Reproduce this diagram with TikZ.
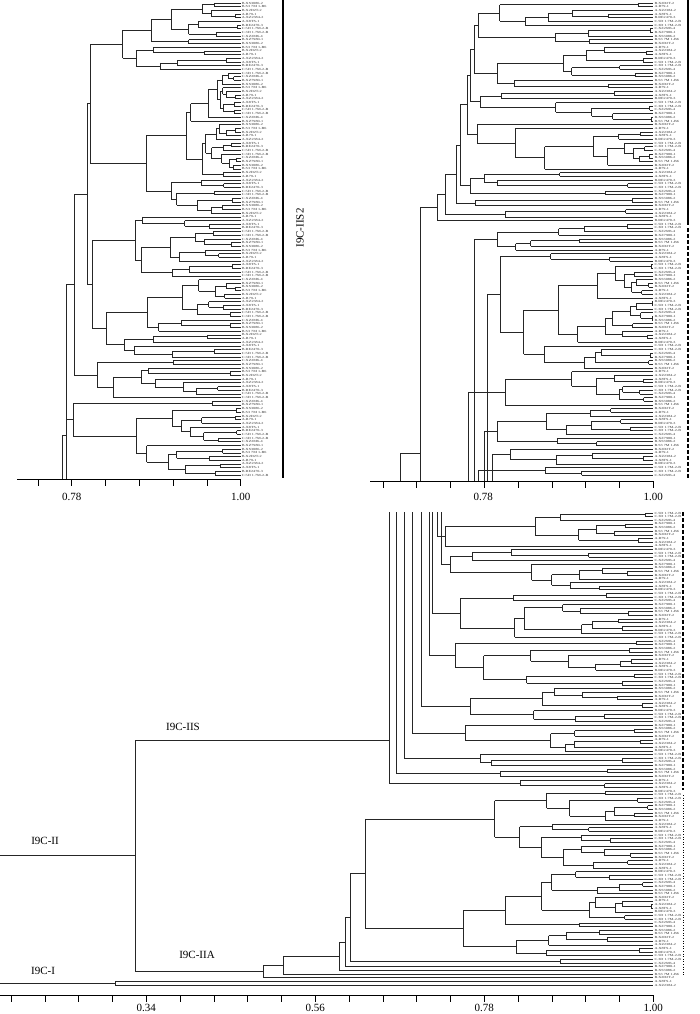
\documentclass[tikz,border=0pt]{standalone}
\usepackage{graphicx}
\usepackage{fontspec}
\setmainfont{Liberation Serif}
\tikzset{
  br/.style={line width=0.75pt, black!85},
  ax/.style={line width=0.8pt, black},
  lab/.style={font=\fontsize{3.1}{3.1}\selectfont, text=black!80, anchor=west, inner sep=0pt, outer sep=0pt},
  num/.style={font=\fontsize{11}{11}\selectfont, inner sep=0pt},
  clu/.style={font=\fontsize{11}{11}\selectfont, inner sep=0pt},
}
\newcommand\leaflabel[1]{\scalebox{1.35}[1]{\ifcase#1 B.XZ7980-1\or C.5D 1.7M-2-B\or A.XZ2384-2\or B.S3 7M 1-B6\or C.XZ2M6-4\or B.RE2470-3\or A.R79-1\or B.XS3086-2\or C.3D 1.7M-2-B\or A.X8TS-1\else B.X2D2T-2\fi}}
\makeatletter
\newcommand\myclade[4]{%
  \ifnum#1=#2\relax\expandafter\@firstoftwo\else\expandafter\@secondoftwo\fi
  {\myleaf{#1}{#3}}{\mybranch{#1}{#2}{#3}{#4}}}
\makeatother
\newcommand\myleaf[2]{%
  \pgfmathsetmacro\mycy{\ystart+(#1-1)*\dy}%
  \draw[br] (#2,\mycy) -- (\xend,\mycy);
  \pgfmathtruncatemacro\mylr{mod(#1*7+\lshift,11)}%
  \node[lab] (\pname-#1) at (\xend+1.2,\mycy) {\leaflabel{\mylr}};
  \xdef\cladeY{\mycy}}
\newcommand\mybranch[4]{%
  \begingroup
  \pgfmathtruncatemacro\myM{min(#1+floor(rnd*(#2-#1)),#2-1)}%
  \edef\myMp{\the\numexpr\myM+1\relax}%
  \pgfmathsetmacro\myrA{rnd}\pgfmathsetmacro\myrB{rnd}%
  \ifnum\numexpr\myM-#1\relax=1
    \pgfmathsetmacro\nxL{#4+(\xend-#4)*(0.3+0.65*\myrA)}%
  \else
    \pgfmathsetmacro\nxL{#4+(\xend-#4)*(0.06+0.4*\myrA)}%
  \fi
  \ifnum\numexpr#2-\myMp\relax=1
    \pgfmathsetmacro\nxR{#4+(\xend-#4)*(0.3+0.65*\myrB)}%
  \else
    \pgfmathsetmacro\nxR{#4+(\xend-#4)*(0.06+0.4*\myrB)}%
  \fi
  \edef\mynext{\noexpand\myclade{#1}{\myM}{#4}{\nxL}}\mynext
  \edef\mycL{\cladeY}%
  \edef\mynext{\noexpand\myclade{\myMp}{#2}{#4}{\nxR}}\mynext
  \edef\mycR{\cladeY}%
  \draw[br] (#4,\mycL) -- (#4,\mycR);
  \pgfmathsetmacro\mycc{(\mycL+\mycR)/2}%
  \draw[br] (#3,\mycc) -- (#4,\mycc);
  \xdef\cladeY{\mycc}%
  \endgroup}
\newcommand\joinv[4]{%
  \draw[br] (#1,#3) -- (#1,#4);
  \pgfmathsetmacro\mycc{(#3+#4)/2}%
  \draw[br] (#2,\mycc) -- (#1,\mycc);
  \xdef\cladeY{\mycc}}
\newcommand\catstep[5]{%
  \draw[br] (#4,\curY) -- (#5,\curY);
  \myclade{#1}{#2}{#4}{#3}%
  \edef\tmpY{\cladeY}%
  \draw[br] (#4,\curY) -- (#4,\tmpY);
  \pgfmathsetmacro\curY{(\curY+\tmpY)/2}}
\newcommand\stub[5]{%
  \myclade{#1}{#2}{#4}{#3}%
  \draw[br] (#4,\cladeY) -- (#4,#5);}
\begin{document}
\begin{tikzpicture}[x=1pt,y=-1pt]
\useasboundingbox[fill=white] (0,0) rectangle (700,1014);
% ---------------- top-left panel ----------------
\def\xend{240.7}\def\ystart{3}\def\dy{3.6875}\def\pname{tl}\def\lshift{0}
\pgfmathsetseed{101}
\myclade{1}{58}{87}{90}\edef\ya{\cladeY}
\myclade{59}{97}{87}{92}\edef\yb{\cladeY}
\joinv{87}{74}{\ya}{\yb}\edef\yc{\cladeY}
\myclade{98}{108}{74}{97}\edef\yd{\cladeY}
\joinv{74}{66}{\yc}{\yd}\edef\ye{\cladeY}
\myclade{109}{129}{66}{73}\edef\yf{\cladeY}
\joinv{66}{66}{\ye}{\yf}
\draw[br] (66,\yf) -- (66,479);
\draw[br] (62,435) -- (66,435);
\draw[br] (62,435) -- (62,479);
\draw[ax] (17,479) -- (240.7,479);
\foreach \k in {0,...,6} \draw[ax] (240.7-\k*33.8,479) -- (240.7-\k*33.8,486);
\node[num] (tl78) at (71.7,497) {0.78};
\node[num] (tl100) at (240.7,497) {1.00};
\draw[line width=1.3pt] (283,0) -- (283,478);
\node[clu, rotate=90] (iis2) at (300,228) {I9C-IIS2};
% ---------------- top-right panel ----------------
\def\xend{653.3}\def\ystart{3}\def\dy{3.6875}\def\pname{tr}\def\lshift{3}
\pgfmathsetseed{202}
\myclade{1}{12}{474}{478}\edef\curY{\cladeY}
\catstep{13}{24}{497}{474}{474}
\catstep{25}{33}{480}{470}{474}
\catstep{34}{46}{477}{467}{470}
\catstep{47}{53}{470}{460}{467}
\catstep{54}{56}{475}{456}{460}
\catstep{57}{59}{505}{445}{456}
\catstep{60}{60}{0}{437}{445}
\draw[br] (420,\curY) -- (437,\curY);
\draw[br] (420,\curY) -- (420,481);
\draw[br] (400,453) -- (420,453);
\draw[br] (400,453) -- (400,481);
\stub{61}{68}{497}{474}{481}
\stub{69}{100}{500}{487}{481}
\stub{101}{110}{505}{468}{481}
\stub{111}{121}{497}{484}{481}
\stub{122}{126}{510}{492}{481}
\stub{127}{129}{545}{478}{481}
\draw[ax] (370,481) -- (653.3,481);
\foreach \k in {0,...,8} \draw[ax] (653.3-\k*33.8,481) -- (653.3-\k*33.8,488);
\node[num] (tr78) at (483.3,497) {0.78};
\node[num] (tr100) at (653.3,497) {1.00};
\draw[line width=1.3pt] (688,0) -- (688,225);
\draw[line width=1.4pt, dash pattern=on 4pt off 2pt] (688,228) -- (688,478);
% ---------------- bottom panel ----------------
\def\xend{653.3}\def\ystart{513}\def\dy{3.66}\def\pname{bt}\def\lshift{5}
\pgfmathsetseed{303}
\stub{1}{10}{445}{437}{512}
\stub{11}{22}{450}{441}{512}
\stub{23}{35}{460}{432}{512}
\stub{36}{48}{455}{429}{512}
\stub{49}{58}{470}{421}{512}
\stub{59}{66}{465}{412}{512}
\stub{67}{70}{480}{404}{512}
\stub{71}{73}{500}{396}{512}
\stub{74}{76}{520}{389}{512}
\draw[br] (135,740) -- (389,740);
\myclade{77}{122}{350}{365}\edef\curY{\cladeY}
\catstep{123}{124}{560}{350}{350}
\catstep{125}{125}{0}{345}{350}
\catstep{126}{126}{0}{339}{345}
\catstep{127}{127}{0}{283}{339}
\catstep{128}{128}{0}{263}{283}
\draw[br] (135,\curY) -- (263,\curY);
\draw[br] (135,740) -- (135,\curY);
\pgfmathsetmacro\yII{(740+\curY)/2}
\draw[br] (0,\yII) -- (135,\yII);
% I9C-I
\draw[br] (0,983) -- (115,983);
\draw[br] (115,981) -- (115,985);
\draw[br] (115,981) -- (653.3,981);
\draw[br] (115,985) -- (653.3,985);
\node[lab] (bt-i1) at (654.5,981) {\leaflabel{9}};
\node[lab] (bt-i2) at (654.5,985) {\leaflabel{2}};
\draw[ax] (0,995) -- (653.3,995);
\foreach \k in {0,...,19} \draw[ax] (653.3-\k*33.8,995) -- (653.3-\k*33.8,1002);
\node[num] (b34) at (146.3,1008) {0.34};
\node[num] (b56) at (315.3,1008) {0.56};
\node[num] (b78) at (484.3,1008) {0.78};
\node[num] (b100) at (653.3,1008) {1.00};
\draw[line width=1.4pt, dash pattern=on 4pt off 2pt] (683,512) -- (683,790);
\draw[line width=0.6pt, dotted] (683,795) -- (683,975);
\node[clu] (liis) at (183,727) {I9C-IIS};
\node[clu] (lii) at (45,841) {I9C-II};
\node[clu] (liia) at (197,955) {I9C-IIA};
\node[clu] (li) at (43,971) {I9C-I};
\end{tikzpicture}
\end{document}
